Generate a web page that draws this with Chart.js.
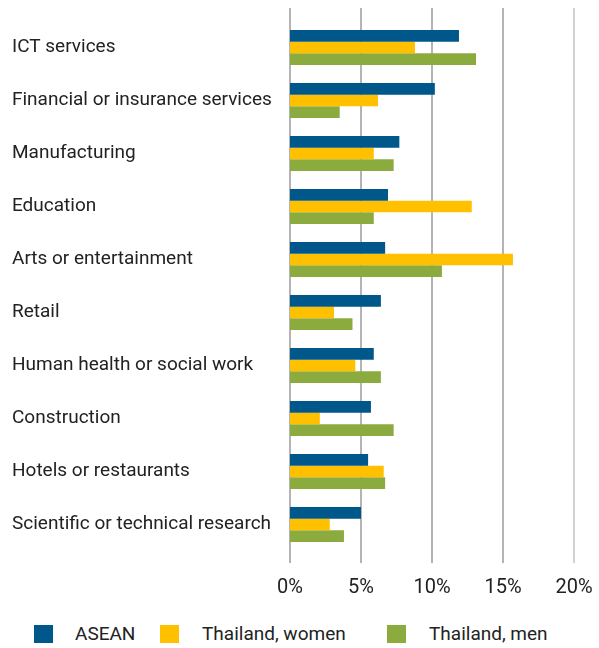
<!DOCTYPE html>
<html>
<head>
<meta charset="utf-8">
<script src="https://cdn.jsdelivr.net/npm/chart.js@4/dist/chart.umd.min.js"></script>
<style>
    html, body { margin: 0; padding: 0; overflow: hidden; background: #fff; }
    body { font-family: Roboto, "Liberation Sans", Arial, sans-serif; color: #222; }
    .wrap { position: relative; width: 599px; height: 648px; }
    #sectorChart { position: absolute; left: 0; top: 0; display: block; }
    .legend { position: absolute; left: 0; top: 622px; width: 599px; height: 24px; }
    .legend-item { position: absolute; top: 0; height: 24px; font-size: 19px; line-height: 24px; }
    .legend-color { position: absolute; left: 0; top: 3px; width: 19px; height: 18px; }
    .legend-label { position: absolute; white-space: nowrap; top: 0; }
</style>
</head>
<body>
<div class="wrap">
    <canvas id="sectorChart" width="599" height="605"></canvas>
    <div class="legend" id="sectorLegend"></div>
</div>
<script>
var categories = [
    'ICT services',
    'Financial or insurance services',
    'Manufacturing',
    'Education',
    'Arts or entertainment',
    'Retail',
    'Human health or social work',
    'Construction',
    'Hotels or restaurants',
    'Scientific or technical research'
];

var aseanValues = [11.9, 10.2, 7.7, 6.9, 6.7, 6.4, 5.9, 5.7, 5.5, 5.0];
var thaiWomenValues = [8.8, 6.2, 5.9, 12.8, 15.7, 3.1, 4.6, 2.1, 6.6, 2.8];
var thaiMenValues = [13.1, 3.5, 7.3, 5.9, 10.7, 4.4, 6.4, 7.3, 6.7, 3.8];

var seriesNames = ['ASEAN', 'Thailand, women', 'Thailand, men'];
var seriesColors = ['#00578a', '#ffc000', '#8cab3e'];

var xTicks = [0, 5, 10, 15, 20];

// vertical gridlines run a bit past the plot area, like the original
var longGrid = {
    id: 'longGrid',
    beforeDatasetsDraw: function (chart) {
        var ctx = chart.ctx;
        var area = chart.chartArea;
        var x = chart.scales.x;
        ctx.save();
        ctx.lineWidth = 2;
        for (var i = 0; i < xTicks.length; i++) {
            var px = Math.round(x.getPixelForValue(xTicks[i]));
            ctx.strokeStyle = i === xTicks.length - 1 ? '#d2d2d2' : '#b4b4b4';
            ctx.beginPath();
            ctx.moveTo(px, area.top - 13);
            ctx.lineTo(px, area.bottom + 12);
            ctx.stroke();
        }
        ctx.restore();
    }
};

var ctx = document.getElementById('sectorChart').getContext('2d');

new Chart(ctx, {
    type: 'bar',
    data: {
        labels: categories,
        datasets: [
            { label: seriesNames[0], data: aseanValues, backgroundColor: seriesColors[0] },
            { label: seriesNames[1], data: thaiWomenValues, backgroundColor: seriesColors[1] },
            { label: seriesNames[2], data: thaiMenValues, backgroundColor: seriesColors[2] }
        ]
    },
    options: {
        responsive: false,
        indexAxis: 'y',
        animation: false,
        categoryPercentage: 0.66,
        barPercentage: 1.0,
        layout: {
            padding: { left: 12, right: 25, top: 21, bottom: 0 }
        },
        plugins: {
            legend: { display: false },
            tooltip: { enabled: false }
        },
        scales: {
            x: {
                min: 0,
                max: 20,
                afterBuildTicks: function (scale) {
                    scale.ticks = xTicks.map(function (v) { return { value: v }; });
                },
                afterFit: function (scale) {
                    scale.height = 54;
                    scale.paddingLeft = 0;
                    scale.paddingRight = 0;
                },
                grid: { display: false, drawTicks: false },
                border: { display: false },
                ticks: {
                    color: '#222',
                    padding: 25,
                    maxRotation: 0,
                    font: { family: 'Roboto, "Liberation Sans", sans-serif', size: 20 },
                    callback: function (value) {
                        return value + '%';
                    }
                }
            },
            y: {
                grid: { display: false },
                border: { display: false },
                afterFit: function (scale) {
                    scale.width = 278;
                },
                ticks: {
                    color: '#222',
                    crossAlign: 'far',
                    font: { family: 'Roboto, "Liberation Sans", sans-serif', size: 19 }
                }
            }
        }
    },
    plugins: [longGrid]
});

var legendLeft = [34, 160, 387];
var textLeft = [41, 42, 42];
var legendHtml = '';
for (var i = 0; i < seriesNames.length; i++) {
    legendHtml += '<div class="legend-item" style="left:' + legendLeft[i] + 'px">' +
        '<span class="legend-color" style="background:' + seriesColors[i] + '"></span>' +
        '<span class="legend-label" style="left:' + textLeft[i] + 'px">' + seriesNames[i] + '</span>' +
        '</div>';
}
document.getElementById('sectorLegend').innerHTML = legendHtml;
</script>
</body>
</html>
